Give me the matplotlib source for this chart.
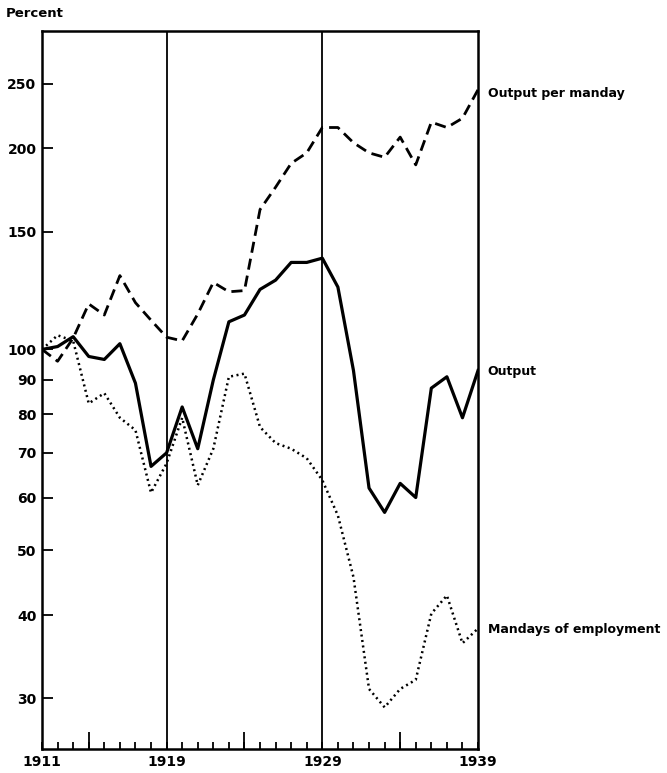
import matplotlib
matplotlib.use("Agg")
import matplotlib.pyplot as plt
from matplotlib.ticker import FixedLocator, NullFormatter, NullLocator

years = list(range(1911, 1940))
output_per_manday = [100, 96, 104, 117, 112.6, 129, 117.5, 110.6, 104.3, 103, 113, 126, 122, 122.5,
                     162, 175, 190, 197, 215, 215, 204, 197, 194, 208, 189, 219, 215, 222, 245]
output = [100, 101, 104.5, 97.6, 96.6, 102, 89, 66.8, 70, 82, 71, 90, 110, 112.6,
          123, 127, 135, 135, 137, 124, 93, 62, 57, 63, 60, 87.5, 91, 79, 93]
mandays = [100, 105, 103, 83, 86, 79, 75.7, 61, 67.5, 79, 62.6, 71, 91, 92,
           76.5, 72.4, 71, 68.7, 63.7, 56.4, 45.6, 31, 29.1, 31, 32, 40.2, 42.8, 36.3, 38.2]
ytick_values = [30, 40, 50, 60, 70, 80, 90, 100, 150, 200, 250]
xtick_labels = [1911, 1919, 1929, 1939]
long_ticks = [1914, 1924, 1934]
divider_years = [1919, 1929]
series_labels = ["Output per manday", "Output", "Mandays of employment"]

fig = plt.figure(figsize=(6.67, 7.73), dpi=100)
ax = fig.add_axes([0.063, 0.031, 0.6537, 0.929])

ax.plot(years, output_per_manday, color="black", lw=2.0, linestyle=(0, (4, 2.2)))
ax.plot(years, output, color="black", lw=2.3, linestyle="-")
ax.plot(years, mandays, color="black", lw=1.8, linestyle=(0, (0.8, 1.4)))

for yr in divider_years:
    ax.axvline(yr, color="black", lw=1.3)

ax.set_yscale("log")
ax.set_ylim(25.2, 300)
ax.set_xlim(1911, 1939)

ax.yaxis.set_major_locator(FixedLocator(ytick_values))
ax.yaxis.set_minor_locator(NullLocator())
ax.set_yticklabels([str(v) for v in ytick_values], fontsize=10, fontweight="bold")
ax.tick_params(axis="y", direction="in", length=8, width=1.3, pad=4)

ax.set_xticks(xtick_labels)
ax.set_xticklabels([str(v) for v in xtick_labels], fontsize=10, fontweight="bold")
ax.set_xticks([y for y in years if y not in xtick_labels], minor=True)
ax.tick_params(axis="x", which="both", direction="in", length=5, width=1.3, pad=4)

sec = ax.secondary_xaxis("bottom")
sec.set_xticks(long_ticks)
sec.xaxis.set_major_formatter(NullFormatter())
sec.tick_params(direction="in", length=12, width=1.3)
sec.spines["bottom"].set_visible(False)

for s in ax.spines.values():
    s.set_linewidth(1.8)

ends = [output_per_manday[-1], output[-1], mandays[-1]]
offsets = [-3, -1, -1]
for lab, v, dy in zip(series_labels, ends, offsets):
    ax.annotate(lab, xy=(years[-1], v), xytext=(7, dy), textcoords="offset points",
                fontsize=9, fontweight="bold", va="center", ha="left",
                annotation_clip=False)

fig.text(0.008, 0.982, "Percent", fontsize=9.5, fontweight="bold", ha="left", va="center")

fig.savefig("out.png", dpi=100)
